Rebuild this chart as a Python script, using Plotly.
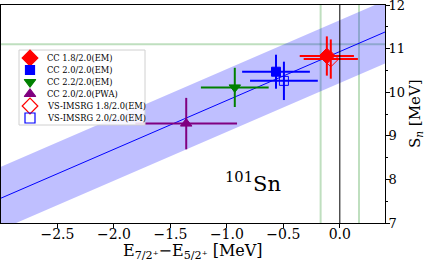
import plotly.graph_objects as go

# ---- data ----
labels = ["CC 1.8/2.0(EM)", "CC 2.0/2.0(EM)", "CC 2.2/2.0(EM)", "CC 2.0/2.0(PWA)",
          "VS-IMSRG 1.8/2.0(EM)", "VS-IMSRG 2.0/2.0(EM)"]
dE = [-0.115, -0.565, -0.93, -1.36, -0.08, -0.495]
dE_err = [0.24, 0.30, 0.30, 0.45, 0.24, 0.30]
Sn = [10.83, 10.47, 10.11, 9.28, 10.76, 10.26]
Sn_err = [0.45, 0.39, 0.45, 0.59, 0.45, 0.44]
colors = ["#ff0000", "#0000ff", "#008000", "#800080", "#ff0000", "#0000ff"]
symbols = ["diamond", "square", "triangle-down", "triangle-up", "diamond-open", "square-open"]
sizes = [12, 9, 10, 10, 12, 9]

fit_x = [-3.0, 0.4]
fit_y = [7.57, 11.38]
band_half = 0.72

exp_Sn = 11.1
exp_dE = 0.0
exp_dE_band = 0.17

xtick_vals = [-2.5, -2.0, -1.5, -1.0, -0.5, 0.0]
xtick_text = ["\u22122.5", "\u22122.0", "\u22121.5", "\u22121.0", "\u22120.5", "0.0"]

font_serif = "DejaVu Serif"

fig = go.Figure()

# band
fig.add_trace(go.Scatter(
    x=fit_x + fit_x[::-1],
    y=[v + band_half for v in fit_y] + [v - band_half for v in fit_y[::-1]],
    fill="toself", fillcolor="rgba(0,0,255,0.25)", line=dict(width=0),
    mode="lines", showlegend=False, hoverinfo="skip"))
fig.add_trace(go.Scatter(x=fit_x, y=fit_y, mode="lines",
                         line=dict(color="#0000ff", width=1), showlegend=False))

# data points
for i in range(len(labels)):
    fig.add_trace(go.Scatter(
        x=[dE[i]], y=[Sn[i]], mode="markers", name=labels[i],
        marker=dict(symbol=symbols[i], color=colors[i], size=sizes[i],
                    line=dict(color=colors[i], width=1)),
        error_x=dict(type="data", array=[dE_err[i]], color=colors[i], thickness=2, width=0),
        error_y=dict(type="data", array=[Sn_err[i]], color=colors[i], thickness=2, width=0),
        showlegend=False))

# reference lines
green = "rgba(0,128,0,0.25)"
for xv in (exp_dE - exp_dE_band, exp_dE + exp_dE_band):
    fig.add_shape(type="line", xref="x", yref="paper", x0=xv, x1=xv, y0=0, y1=1,
                  line=dict(color=green, width=2), layer="below")
fig.add_shape(type="line", xref="paper", yref="y", x0=0, x1=1, y0=exp_Sn, y1=exp_Sn,
              line=dict(color=green, width=2), layer="below")
fig.add_shape(type="line", xref="x", yref="paper", x0=exp_dE, x1=exp_dE, y0=0, y1=1,
              line=dict(color="black", width=1))

# manual legend on overlay axes (pixel-like coordinates)
leg_x0, leg_x1, leg_y0, leg_y1 = 19, 145, 50, 125
row_y0, row_dy = 58, 12
mk_x, txt_x = 30, 45
fig.add_trace(go.Scatter(
    x=[leg_x0, leg_x1, leg_x1, leg_x0, leg_x0], y=[leg_y0, leg_y0, leg_y1, leg_y1, leg_y0],
    xaxis="x2", yaxis="y2", mode="lines", fill="toself",
    fillcolor="rgba(255,255,255,0.85)", line=dict(color="#d0d0d0", width=1),
    showlegend=False, hoverinfo="skip"))
leg_sizes = [12, 9, 10, 10, 12, 10]
for i in range(len(labels)):
    yy = row_y0 + i * row_dy
    fig.add_trace(go.Scatter(
        x=[mk_x], y=[yy], xaxis="x2", yaxis="y2", mode="markers",
        marker=dict(symbol=symbols[i], color=colors[i], size=leg_sizes[i],
                    line=dict(color=colors[i], width=1.2)),
        showlegend=False, hoverinfo="skip"))
    fig.add_annotation(x=txt_x, y=yy, xref="x2", yref="y2", text=labels[i], showarrow=False,
                       xanchor="left", yanchor="middle",
                       font=dict(family=font_serif, size=8.3, color="black"))

fig.add_annotation(x=-0.77, y=7.94, xref="x", yref="y", text="<sup>101</sup>Sn", showarrow=False,
                   font=dict(family=font_serif, size=21, color="black"))

# axis titles as annotations for exact placement
fig.add_annotation(x=0.5, y=0, xref="paper", yref="paper", yshift=-28,
                   text="E<sub>7/2\u207a</sub>\u2212E<sub>5/2\u207a</sub> [MeV]", showarrow=False,
                   xanchor="center", yanchor="middle",
                   font=dict(family=font_serif, size=16, color="black"))
fig.add_annotation(x=1, y=0.5, xref="paper", yref="paper", xshift=30,
                   text="S<sub><i>n</i></sub> [MeV]", showarrow=False, textangle=-90,
                   xanchor="center", yanchor="middle",
                   font=dict(family=font_serif, size=15, color="black"))

fig.update_layout(
    width=425, height=260,
    margin=dict(l=1, r=40, t=5, b=37, autoexpand=False),
    plot_bgcolor="white", paper_bgcolor="white",
    showlegend=False,
    font=dict(family=font_serif, size=14, color="black"),
    xaxis=dict(range=[-3.0, 0.4], tickvals=xtick_vals, ticktext=xtick_text,
               showgrid=False, zeroline=False, showline=True, linecolor="black", linewidth=1,
               mirror=True, ticks="outside", ticklen=4, tickcolor="black", automargin=False,
               tickfont=dict(size=14), ticklabelstandoff=-6, ticklabeloverflow="allow"),
    yaxis=dict(range=[7, 12], side="right", dtick=1, showgrid=False, zeroline=False,
               showline=True, linecolor="black", linewidth=1, mirror=True,
               ticks="outside", ticklen=4, tickcolor="black", automargin=False,
               tickfont=dict(size=13), ticklabelstandoff=-4, ticklabeloverflow="allow",
               minor=dict(dtick=0.5, ticks="outside", ticklen=2, tickcolor="black")),
    xaxis2=dict(range=[1, 385], overlaying="x", visible=False, fixedrange=True),
    yaxis2=dict(range=[223, 5], overlaying="y", visible=False, fixedrange=True),
)

fig.write_html("out.html", config={"displayModeBar": False},
               post_script="document.body.style.margin='0px';document.body.style.padding='0px';")
